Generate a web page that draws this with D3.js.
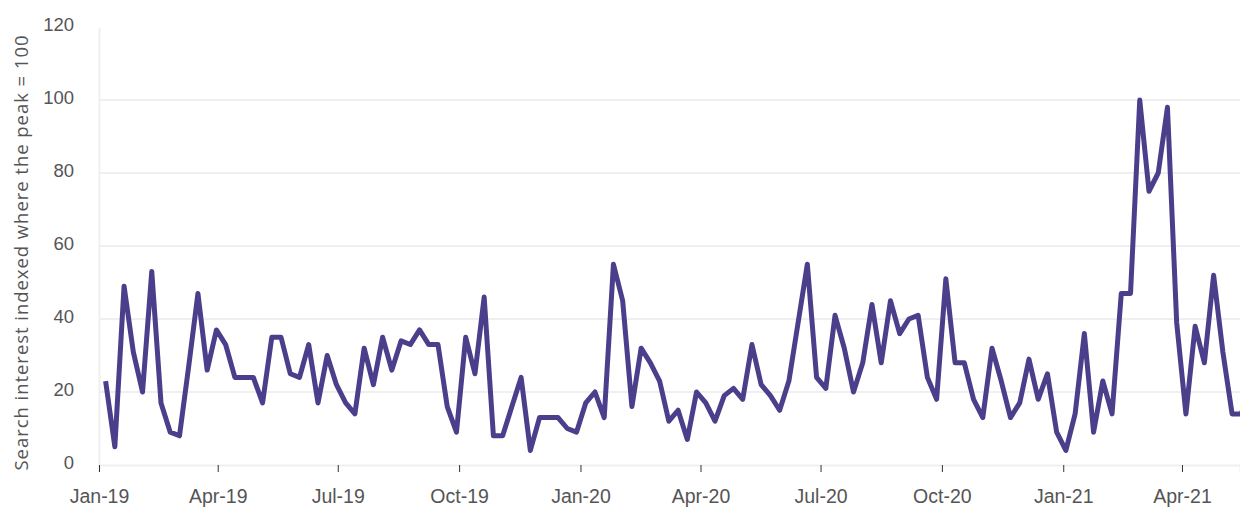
<!DOCTYPE html>
<html>
<head>
<meta charset="utf-8">
<script src="https://cdn.jsdelivr.net/npm/d3@7"></script>
<style>
    body { margin: 0; background: #fff; }
    svg { display: block; font-family: "Open Sans", "Noto Sans", sans-serif; }
    .axis text { fill: #555; }
</style>
</head>
<body>
<div class="graph"></div>
<script>
// Weekly search interest, first week starting 6 Jan 2019
const startWeek = new Date(2019, 0, 6);
const interest = [
    23, 5, 49, 31, 20, 53, 17, 9, 8, 27, 47, 26, 37, 33, 24, 24, 24, 17, 35, 35,
    25, 24, 33, 17, 30, 22, 17, 14, 32, 22, 35, 26, 34, 33, 37, 33, 33, 16, 9, 35,
    25, 46, 8, 8, 16, 24, 4, 13, 13, 13, 10, 9, 17, 20, 13, 55, 45, 16, 32, 28,
    23, 12, 15, 7, 20, 17, 12, 19, 21, 18, 33, 22, 19, 15, 23, 39, 55, 24, 21, 41,
    32, 20, 28, 44, 28, 45, 36, 40, 41, 24, 18, 51, 28, 28, 18, 13, 32, 23, 13, 17,
    29, 18, 25, 9, 4, 14, 36, 9, 23, 14, 47, 47, 100, 75, 80, 98, 39, 14, 38, 28,
    52, 31, 14, 14, 22
];
const yTicks = [0, 20, 40, 60, 80, 100, 120];
const xTickDates = [
    new Date(2019, 0, 1), new Date(2019, 3, 1), new Date(2019, 6, 1), new Date(2019, 9, 1),
    new Date(2020, 0, 1), new Date(2020, 3, 1), new Date(2020, 6, 1), new Date(2020, 9, 1),
    new Date(2021, 0, 1), new Date(2021, 3, 1)
];
const yTitle = "Search interest indexed where the peak = 100";

const data = interest.map((v, i) => ({
    week: d3.timeDay.offset(startWeek, i * 7),
    value: v
}));

const dimensions = {
    width: 1240,
    height: 509,
    margins: { top: 27, right: 0, bottom: 44, left: 99 }
};
dimensions.boundedWidth = dimensions.width - dimensions.margins.left - dimensions.margins.right;
dimensions.boundedHeight = dimensions.height - dimensions.margins.top - dimensions.margins.bottom;

const wrapper = d3.select(".graph")
    .append("svg")
        .attr("width", dimensions.width)
        .attr("height", dimensions.height);

const bounds = wrapper.append("g")
    .attr("transform", `translate(${dimensions.margins.left},${dimensions.margins.top})`);

const xScale = d3.scaleTime()
    .domain([new Date(2019, 0, 1), new Date(2021, 4, 15)])
    .range([0, dimensions.boundedWidth]);

const yScale = d3.scaleLinear()
    .domain([0, 120])
    .range([dimensions.boundedHeight, 0]);

// gridlines
bounds.append("g")
    .selectAll("line")
    .data(yTicks.filter(d => d > 0 && d < 120))
    .join("line")
        .attr("x1", 0)
        .attr("x2", dimensions.boundedWidth)
        .attr("y1", d => yScale(d))
        .attr("y2", d => yScale(d))
        .attr("stroke", "#efefef")
        .attr("stroke-width", 2);

// y axis
const yAxis = bounds.append("g")
    .attr("class", "axis")
    .call(d3.axisLeft(yScale).tickValues(yTicks).tickSize(0).tickPadding(25));
yAxis.select(".domain")
    .attr("stroke", "#efefef")
    .attr("stroke-width", 2);
yAxis.selectAll("text")
    .attr("dy", "0.2em")
    .attr("font-size", 18.5);

// x axis
const xAxis = bounds.append("g")
    .attr("class", "axis")
    .attr("transform", `translate(0,${dimensions.boundedHeight})`)
    .call(d3.axisBottom(xScale)
        .tickValues(xTickDates)
        .tickFormat(d3.timeFormat("%b-%y"))
        .tickSizeOuter(0)
        .tickSize(7)
        .tickPadding(17));
xAxis.select(".domain")
    .attr("stroke", "#efefef")
    .attr("stroke-width", 2);
xAxis.selectAll(".tick line").attr("stroke", "#333");
xAxis.selectAll("text").attr("font-size", 19.5);

// y title
wrapper.append("text")
    .attr("transform", `translate(20,${dimensions.margins.top + dimensions.boundedHeight / 2 + 7}) rotate(-90)`)
    .attr("text-anchor", "middle")
    .attr("dominant-baseline", "central")
    .attr("fill", "#555")
    .attr("font-size", 18.5)
    .attr("textLength", 435)
    .attr("lengthAdjust", "spacing")
    .text(yTitle);

// the line, clipped to the plot area
wrapper.append("defs").append("clipPath")
    .attr("id", "plot-clip")
    .append("rect")
        .attr("x", 0)
        .attr("y", -10)
        .attr("width", dimensions.boundedWidth)
        .attr("height", dimensions.boundedHeight + 20);

const lineGenerator = d3.line()
    .x(d => xScale(d.week))
    .y(d => yScale(d.value));

bounds.append("path")
    .attr("clip-path", "url(#plot-clip)")
    .attr("d", lineGenerator(data))
    .attr("fill", "none")
    .attr("stroke", "#4b3f8c")
    .attr("stroke-width", 5)
    .attr("stroke-linejoin", "round");
</script>
</body>
</html>
